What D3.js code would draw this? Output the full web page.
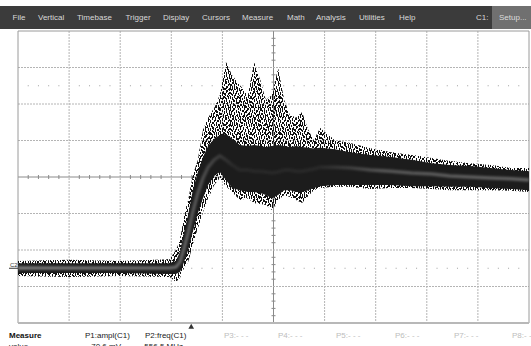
<!DOCTYPE html>
<html>
<head>
<meta charset="utf-8">
<script src="https://cdn.jsdelivr.net/npm/d3@7"></script>
<style>
    body { margin: 0; background: #fff; }
    svg { display: block; font-family: 'Liberation Sans', Arial, sans-serif; }
</style>
</head>
<body>
<div id="chart"></div>
<script>
// menu bar entries
const menuItems = [ 'File', 'Vertical', 'Timebase', 'Trigger', 'Display', 'Cursors', 'Measure', 'Math', 'Analysis', 'Utilities', 'Help' ];

// measurement table
const measureNames = [ 'P1:ampl(C1)', 'P2:freq(C1)', 'P3:- - -', 'P4:- - -', 'P5:- - -', 'P6:- - -', 'P7:- - -', 'P8:- - -' ];
const measureValues = [ '70.6 mV', '556.5 MHz' ];

// waveform, time and amplitude in screen divisions
const time = [ 0, 1, 2, 2.97, 3.09, 3.17, 3.25, 3.33, 3.42, 3.52, 3.62, 3.72, 3.84, 3.95, 4.07, 4.19, 4.34, 4.50, 4.62, 4.74, 4.85, 4.97, 5.09, 5.21, 5.32, 5.44, 5.56, 5.68, 5.79, 5.91, 6.2, 6.5, 6.9, 7.3, 7.7, 8.1, 8.45, 8.85, 9.25, 9.65, 10 ];
const coreHigh = [ -2.36, -2.36, -2.36, -2.36, -2.30, -2.05, -1.51, -1.04, -0.36, 0.14, 0.55, 0.85, 1.05, 1.15, 1.18, 1.05, 0.88, 0.85, 0.88, 0.85, 0.82, 0.85, 0.88, 0.85, 0.82, 0.85, 0.82, 0.80, 0.78, 0.80, 0.76, 0.68, 0.60, 0.55, 0.47, 0.38, 0.33, 0.30, 0.25, 0.19, 0.16 ];
const coreLow = [ -2.63, -2.63, -2.63, -2.66, -2.66, -2.60, -2.33, -2.00, -1.51, -0.99, -0.58, -0.22, 0.03, 0.14, -0.08, -0.30, -0.36, -0.41, -0.41, -0.44, -0.49, -0.58, -0.49, -0.36, -0.36, -0.41, -0.41, -0.36, -0.30, -0.25, -0.22, -0.22, -0.22, -0.22, -0.25, -0.25, -0.27, -0.27, -0.30, -0.33, -0.36 ];
const noiseHigh = [ -2.30, -2.27, -2.30, -2.25, -2.00, -1.73, -1.04, -0.63, 0.05, 0.47, 1.29, 1.62, 1.89, 2.25, 3.15, 2.79, 2.52, 2.25, 3.15, 2.66, 2.11, 2.25, 2.99, 2.11, 1.70, 1.62, 1.78, 1.29, 1.01, 1.34, 1.01, 0.93, 0.79, 0.68, 0.60, 0.52, 0.44, 0.38, 0.33, 0.25, 0.25 ];
const noiseLow = [ -2.71, -2.74, -2.71, -2.74, -2.88, -2.77, -2.49, -2.33, -1.86, -1.40, -0.96, -0.58, -0.22, -0.03, -0.25, -0.41, -0.63, -0.58, -0.71, -0.74, -0.77, -0.90, -0.63, -0.49, -0.55, -0.63, -0.71, -0.52, -0.36, -0.30, -0.27, -0.27, -0.33, -0.30, -0.30, -0.33, -0.36, -0.36, -0.36, -0.38, -0.41 ];
const trace = [ -2.49, -2.49, -2.49, -2.49, -2.47, -2.33, -1.95, -1.53, -0.96, -0.44, -0.03, 0.27, 0.47, 0.58, 0.47, 0.33, 0.19, 0.19, 0.16, 0.16, 0.14, 0.11, 0.14, 0.19, 0.19, 0.16, 0.16, 0.19, 0.22, 0.27, 0.27, 0.25, 0.19, 0.16, 0.11, 0.08, 0.03, 0, -0.03, -0.05, -0.08 ];

const triggerTime = 3.39;
const channelOffset = -2.5;
const markerLevels = [ 2.5, -2.5 ];

const width = 531, height = 346;
const plot = { left: 18, right: 529, top: 31, bottom: 323 };

const svg = d3.select( '#chart' ).append( 'svg' )
    .attr( 'width', width )
    .attr( 'height', height );

const defs = svg.append( 'defs' );

// two speckle tiles of different size, stacked, so the noise does not look striped
const speckleTiles = {
    speckleA: { w: 10, h: 12, dots: [ [0,0,1,3], [1,5,1,2], [2,2,1,2], [3,7,1,3], [4,0,1,2], [4,4,1,2], [5,9,1,3], [6,2,1,3],
        [7,6,1,2], [8,0,1,2], [8,9,1,2], [9,4,1,3], [0,8,1,2], [2,10,1,2], [6,7,1,1], [9,11,1,1] ] },
    speckleB: { w: 7, h: 9, dots: [ [0,3,1,2], [2,0,1,3], [3,5,1,2], [5,2,1,2], [6,6,1,3], [1,7,1,2], [4,8,1,1] ] }
};

Object.keys( speckleTiles ).forEach( id => {
    const tile = speckleTiles[ id ];
    const p = defs.append( 'pattern' )
        .attr( 'id', id )
        .attr( 'width', tile.w )
        .attr( 'height', tile.h )
        .attr( 'patternUnits', 'userSpaceOnUse' );
    tile.dots.forEach( r => {
        p.append( 'rect' )
            .attr( 'x', r[0] ).attr( 'y', r[1] )
            .attr( 'width', r[2] ).attr( 'height', r[3] )
            .attr( 'fill', '#111' );
    } );
} );

defs.append( 'filter' )
    .attr( 'id', 'soft' )
    .append( 'feGaussianBlur' )
    .attr( 'stdDeviation', 1.2 );

// the bright trace fades out where the signal rings
const traceGrad = defs.append( 'linearGradient' )
    .attr( 'id', 'traceGrad' )
    .attr( 'gradientUnits', 'userSpaceOnUse' )
    .attr( 'x1', 0 ).attr( 'x2', width )
    .attr( 'y1', 0 ).attr( 'y2', 0 );
[ [ 0, 0.75 ], [ 0.33, 0.6 ], [ 0.38, 0.4 ], [ 0.44, 0.1 ], [ 0.6, 0.1 ], [ 0.72, 0.45 ], [ 1, 0.55 ] ].forEach( s => {
    traceGrad.append( 'stop' )
        .attr( 'offset', s[0] )
        .attr( 'stop-color', '#9a9a9a' )
        .attr( 'stop-opacity', s[1] );
} );

// menu bar
svg.append( 'rect' )
    .attr( 'x', 0 ).attr( 'y', 6 )
    .attr( 'width', width ).attr( 'height', 23 )
    .attr( 'fill', '#3b3b3b' );

svg.append( 'rect' )
    .attr( 'x', 492 ).attr( 'y', 6 )
    .attr( 'width', 39 ).attr( 'height', 23 )
    .attr( 'fill', '#707070' );

const menuX = [ 12.5, 38, 77, 125.5, 163, 202, 242, 287, 316, 359, 399 ];

svg.append( 'g' )
    .selectAll( 'text' )
    .data( menuItems )
    .enter()
    .append( 'text' )
    .attr( 'x', ( d, i ) => menuX[ i ] )
    .attr( 'y', 20 )
    .attr( 'font-size', 8 )
    .attr( 'fill', '#d8d8d8' )
    .text( d => d );

svg.append( 'text' )
    .attr( 'x', 476 ).attr( 'y', 20 )
    .attr( 'font-size', 8 )
    .attr( 'fill', '#d8d8d8' )
    .text( 'C1:' );

svg.append( 'text' )
    .attr( 'x', 499 ).attr( 'y', 20 )
    .attr( 'font-size', 8 )
    .attr( 'fill', '#dcdcdc' )
    .text( 'Setup...' );

// scales
const xScale = d3.scaleLinear()
    .domain( [ 0, 10 ] )
    .range( [ plot.left, plot.right ] );

const yScale = d3.scaleLinear()
    .domain( [ -4, 4 ] )
    .range( [ plot.bottom, plot.top ] );

// grid
const grid = svg.append( 'g' ).attr( 'class', 'grid' );

grid.selectAll( '.vline' )
    .data( d3.range( 1, 10 ) )
    .enter()
    .append( 'line' )
    .attr( 'x1', d => xScale( d ) ).attr( 'x2', d => xScale( d ) )
    .attr( 'y1', plot.top ).attr( 'y2', plot.bottom )
    .attr( 'stroke', d => d === 5 ? '#8a8a8a' : '#b4b4b4' )
    .attr( 'stroke-dasharray', d => d === 5 ? null : '2,1' );

grid.selectAll( '.hline' )
    .data( d3.range( -3, 4 ) )
    .enter()
    .append( 'line' )
    .attr( 'x1', plot.left ).attr( 'x2', plot.right )
    .attr( 'y1', d => yScale( d ) ).attr( 'y2', d => yScale( d ) )
    .attr( 'stroke', d => d === 0 ? '#8a8a8a' : '#b4b4b4' )
    .attr( 'stroke-dasharray', d => d === 0 ? null : '2,1' );

// minor ticks on the centre axes
grid.selectAll( '.xtick' )
    .data( d3.range( 0, 50 ).map( i => i / 5 ).filter( d => d % 1 !== 0 ) )
    .enter()
    .append( 'line' )
    .attr( 'x1', d => xScale( d ) ).attr( 'x2', d => xScale( d ) )
    .attr( 'y1', yScale( 0 ) - 2 ).attr( 'y2', yScale( 0 ) + 2 )
    .attr( 'stroke', '#8a8a8a' );

grid.selectAll( '.ytick' )
    .data( d3.range( -20, 20 ).map( i => i / 5 ).filter( d => d % 1 !== 0 ) )
    .enter()
    .append( 'line' )
    .attr( 'x1', xScale( 5 ) - 2 ).attr( 'x2', xScale( 5 ) + 2 )
    .attr( 'y1', d => yScale( d ) ).attr( 'y2', d => yScale( d ) )
    .attr( 'stroke', '#8a8a8a' );

// dotted marker rows
markerLevels.forEach( level => {
    grid.selectAll( null )
        .data( d3.range( 0, 50 ).map( i => i / 5 ).filter( d => d % 1 !== 0 ) )
        .enter()
        .append( 'rect' )
        .attr( 'x', d => xScale( d ) - 0.5 )
        .attr( 'y', yScale( level ) - 0.5 )
        .attr( 'width', 1 ).attr( 'height', 1 )
        .attr( 'fill', '#a0a0a0' );
} );

// border
grid.append( 'path' )
    .attr( 'd', `M${plot.left},${plot.bottom}V${plot.top}H${plot.right}V${plot.bottom}` )
    .attr( 'fill', 'none' )
    .attr( 'stroke', '#9a9a9a' );

grid.append( 'line' )
    .attr( 'x1', plot.left ).attr( 'x2', plot.right )
    .attr( 'y1', plot.bottom ).attr( 'y2', plot.bottom )
    .attr( 'stroke', '#b8b8b8' )
    .attr( 'stroke-width', 2 );

// waveform
const wave = time.map( ( t, i ) => ( {
    t: t,
    coreHigh: coreHigh[ i ],
    coreLow: coreLow[ i ],
    noiseHigh: noiseHigh[ i ],
    noiseLow: noiseLow[ i ],
    trace: trace[ i ]
} ) );

const waveG = svg.append( 'g' ).attr( 'class', 'wave' );

const noiseArea = d3.area()
    .x( d => xScale( d.t ) )
    .y0( d => yScale( d.noiseLow ) )
    .y1( d => yScale( d.noiseHigh ) );

[ 'speckleA', 'speckleB' ].forEach( id => {
    waveG.append( 'path' )
        .datum( wave )
        .attr( 'd', noiseArea )
        .attr( 'fill', `url(#${id})` );
} );

waveG.append( 'path' )
    .datum( wave )
    .attr( 'd', d3.area()
        .x( d => xScale( d.t ) )
        .y0( d => yScale( d.coreLow ) )
        .y1( d => yScale( d.coreHigh ) ) )
    .attr( 'fill', '#1c1c1c' );

waveG.append( 'path' )
    .datum( wave )
    .attr( 'd', d3.line()
        .x( d => xScale( d.t ) )
        .y( d => yScale( d.trace ) ) )
    .attr( 'fill', 'none' )
    .attr( 'stroke', 'url(#traceGrad)' )
    .attr( 'stroke-width', 3.5 )
    .attr( 'filter', 'url(#soft)' );

// channel marker
svg.append( 'text' )
    .attr( 'x', 10 ).attr( 'y', yScale( channelOffset ) - 1.5 )
    .attr( 'font-size', 6 )
    .attr( 'fill', '#333' )
    .text( 'C2' );

svg.append( 'line' )
    .attr( 'x1', 9 ).attr( 'x2', 18 )
    .attr( 'y1', yScale( channelOffset ) ).attr( 'y2', yScale( channelOffset ) )
    .attr( 'stroke', '#333' );

// trigger position
svg.append( 'path' )
    .attr( 'd', d3.symbol().type( d3.symbolTriangle ).size( 14 ) )
    .attr( 'transform', `translate( ${ xScale( triggerTime ) }, 327 )` )
    .attr( 'fill', '#333' );

// measurement table
const measureX = [ 85, 145, 224, 278, 336, 395, 454, 512 ];

svg.append( 'text' )
    .attr( 'x', 9 ).attr( 'y', 338 )
    .attr( 'font-size', 8 )
    .attr( 'font-weight', 'bold' )
    .attr( 'fill', '#111' )
    .text( 'Measure' );

svg.append( 'g' )
    .selectAll( 'text' )
    .data( measureNames )
    .enter()
    .append( 'text' )
    .attr( 'x', ( d, i ) => measureX[ i ] )
    .attr( 'y', 338 )
    .attr( 'font-size', 8 )
    .attr( 'fill', ( d, i ) => i < 2 ? '#222' : '#bdbdbd' )
    .text( d => d );

svg.append( 'text' )
    .attr( 'x', 9 ).attr( 'y', 349 )
    .attr( 'font-size', 8 )
    .attr( 'fill', '#222' )
    .text( 'value' );

const valueRight = [ 121, 183 ];

svg.append( 'g' )
    .selectAll( 'text' )
    .data( measureValues )
    .enter()
    .append( 'text' )
    .attr( 'x', ( d, i ) => valueRight[ i ] )
    .attr( 'y', 349 )
    .attr( 'font-size', 8 )
    .attr( 'text-anchor', 'end' )
    .attr( 'fill', '#222' )
    .text( d => d );
</script>
</body>
</html>
